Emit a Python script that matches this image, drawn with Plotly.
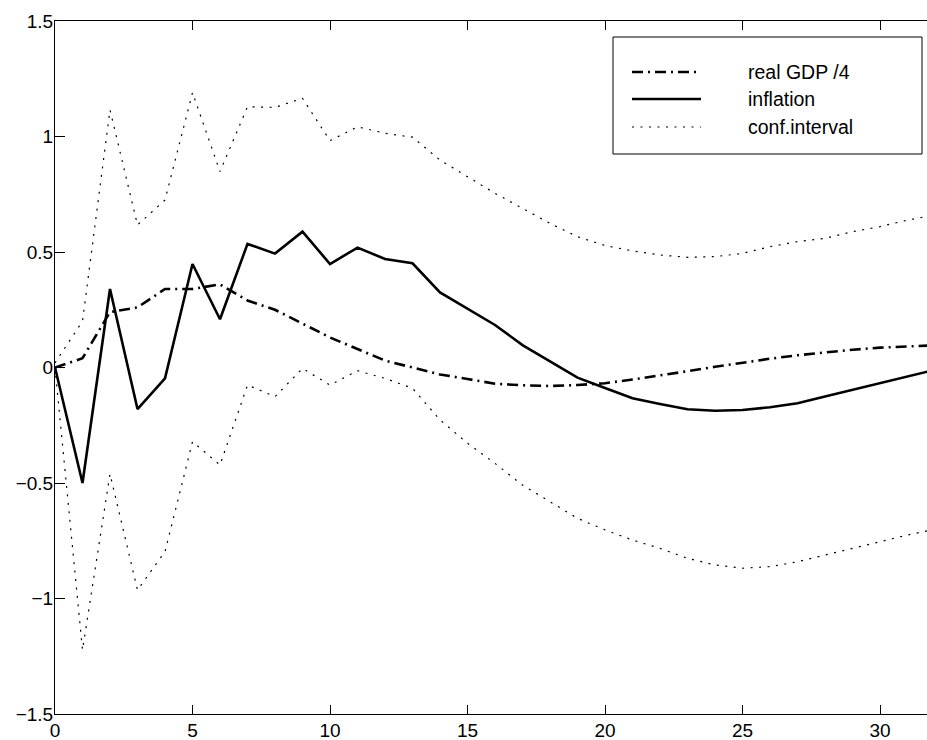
import plotly.graph_objects as go

periods = list(range(0, 33))

real_gdp_4 = [0.00, 0.04, 0.24, 0.26, 0.34, 0.34, 0.36, 0.29, 0.25, 0.19, 0.13,
              0.08, 0.03, 0.00, -0.03, -0.05, -0.07, -0.077, -0.08, -0.076, -0.068,
              -0.052, -0.035, -0.016, 0.003, 0.021, 0.038, 0.053, 0.066, 0.077, 0.086,
              0.092, 0.096]

inflation = [0.00, -0.50, 0.34, -0.18, -0.047, 0.448, 0.209, 0.535, 0.493, 0.588, 0.448,
             0.519, 0.470, 0.451, 0.325, 0.255, 0.184, 0.097, 0.025, -0.044, -0.089,
             -0.133, -0.158, -0.181, -0.187, -0.184, -0.172, -0.155, -0.126, -0.097, -0.068,
             -0.039, -0.010]

conf_upper = [0.02, 0.20, 1.115, 0.617, 0.725, 1.19, 0.848, 1.129, 1.126, 1.165, 0.982,
              1.042, 1.014, 0.997, 0.898, 0.826, 0.754, 0.689, 0.624, 0.566, 0.528,
              0.505, 0.487, 0.477, 0.480, 0.494, 0.523, 0.545, 0.559, 0.588, 0.610,
              0.638, 0.66]

conf_lower = [0.00, -1.223, -0.461, -0.963, -0.797, -0.321, -0.422, -0.076, -0.126, -0.004, -0.076,
              -0.014, -0.047, -0.090, -0.227, -0.328, -0.415, -0.509, -0.581, -0.653, -0.703,
              -0.747, -0.783, -0.826, -0.855, -0.869, -0.862, -0.841, -0.812, -0.783, -0.754,
              -0.725, -0.70]

legend_labels = ["real GDP /4", "inflation", "conf.interval"]
x_ticks = [0, 5, 10, 15, 20, 25, 30]
y_ticks = [-1.5, -1, -0.5, 0, 0.5, 1, 1.5]
y_tick_text = ["−1.5", "−1", "−0.5", "0", "0.5", "1", "1.5"]

DOT = "2px,6.5px"
DASHDOT = "11px,5px,2px,5px"
FONT = "Liberation Sans, Arial, Helvetica, sans-serif"

fig = go.Figure()
fig.add_trace(go.Scatter(x=periods, y=conf_upper, mode="lines", name=legend_labels[2],
                         line=dict(color="black", width=1.2, dash=DOT), showlegend=False))
fig.add_trace(go.Scatter(x=periods, y=conf_lower, mode="lines", name=legend_labels[2],
                         line=dict(color="black", width=1.2, dash=DOT), showlegend=False))
fig.add_trace(go.Scatter(x=periods, y=real_gdp_4, mode="lines", name=legend_labels[0],
                         line=dict(color="black", width=2.6, dash=DASHDOT), showlegend=False))
fig.add_trace(go.Scatter(x=periods, y=inflation, mode="lines", name=legend_labels[1],
                         line=dict(color="black", width=2.6), showlegend=False))

W, H = 927, 740
L, R, T, B = 55, 0, 21, 26
pw, ph = W - L - R, H - T - B


def px(x):
    return (x - L) / pw


def py(y):
    return (H - B - y) / ph


# legend box (manual, MATLAB style)
fig.add_shape(type="rect", xref="paper", yref="paper",
              x0=px(613), x1=px(922), y0=py(154), y1=py(37),
              line=dict(color="black", width=1), fillcolor="white", layer="above")
styles = [dict(color="black", width=2.6, dash=DASHDOT),
          dict(color="black", width=2.6, dash="solid"),
          dict(color="black", width=1.2, dash=DOT)]
rows = [72, 99, 127]
for lab, st, ry in zip(legend_labels, styles, rows):
    fig.add_shape(type="line", xref="paper", yref="paper",
                  x0=px(632), x1=px(701), y0=py(ry), y1=py(ry), line=st, layer="above")
    fig.add_annotation(xref="paper", yref="paper", x=px(746), y=py(ry), text=lab,
                       showarrow=False, xanchor="left", yanchor="middle",
                       font=dict(family=FONT, size=19.5, color="black"))

fig.update_layout(
    width=W, height=H, template="none",
    margin=dict(l=L, r=R, t=T, b=B, pad=0),
    paper_bgcolor="white", plot_bgcolor="white",
    showlegend=False,
    font=dict(family=FONT, size=19, color="black"),
)
fig.update_xaxes(range=[0, 31.709], tickvals=x_ticks, ticktext=[str(v) for v in x_ticks],
                 showgrid=False, zeroline=False, showline=True, linecolor="black", linewidth=1,
                 mirror="ticks", ticks="inside", ticklen=9, tickcolor="black", tickwidth=1,
                 automargin=False, ticklabelstandoff=-1,
                 tickfont=dict(family=FONT, size=19, color="black"))
fig.update_yaxes(range=[-1.5, 1.5], tickvals=y_ticks, ticktext=y_tick_text,
                 showgrid=False, zeroline=False, showline=True, linecolor="black", linewidth=1,
                 mirror=False, ticks="inside", ticklen=10, tickcolor="black", tickwidth=1,
                 automargin=False, ticklabelstandoff=-3,
                 tickfont=dict(family=FONT, size=19, color="black"))

fig.write_html("out.html")
